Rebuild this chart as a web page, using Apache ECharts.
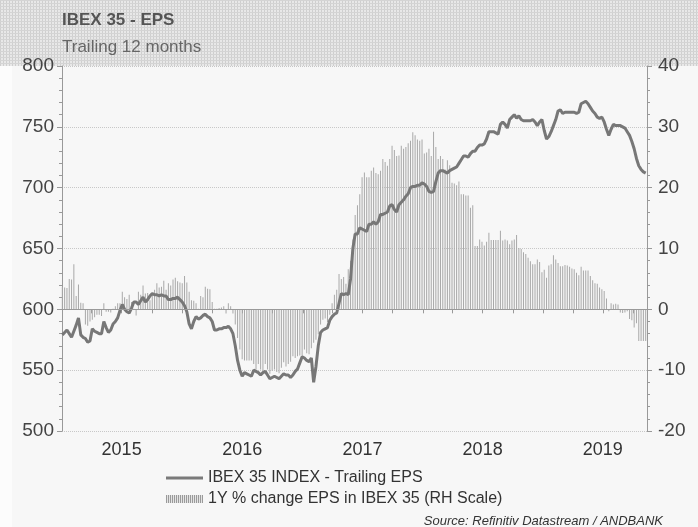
<!DOCTYPE html>
<html lang="en">
<head>
    <meta charset="utf-8">
    <title>IBEX 35 - EPS</title>
    <style>
        html, body, #myChart {
            width: 100%;
            height: 100%;
            margin: 0;
            padding: 0;
            overflow: hidden;
        }
    </style>
</head>
<body>
    <div id="myChart"></div>
    <script src="https://cdn.jsdelivr.net/npm/echarts@6/dist/echarts.min.js"></script>
    <script>
        // weekly readings, first week ending 2 Jan 2015
        var years = [2015, 2016, 2017, 2018, 2019];
        var lineName = 'IBEX 35 INDEX - Trailing EPS';
        var barName = '1Y % change EPS in IBEX 35 (RH Scale)';

        // trailing 12m EPS (left scale)
        var eps = [
            579, 581, 583, 580, 577, 582, 587, 593, 579, 577,
            576, 573, 574, 584, 582, 581, 580, 580, 590, 585,
            581, 583, 588, 590, 593, 599, 604, 600, 598, 597,
            601, 606, 606, 604, 607, 610, 606, 608, 611, 613,
            612, 612, 611, 612, 611, 611, 608, 608, 609, 609,
            610, 608, 606, 603, 598, 588, 584, 590, 594, 592,
            593, 595, 596, 594, 593, 590, 583, 583, 584, 584,
            585, 585, 586, 584, 580, 570, 558, 550, 545, 548,
            547, 546, 545, 550, 549, 548, 546, 548, 549, 546,
            543, 544, 545, 544, 543, 545, 547, 546, 546, 544,
            546, 549, 551, 556, 561, 560, 558, 557, 560, 540,
            553, 570, 581, 583, 584, 585, 591, 594, 596, 597,
            605, 613, 612, 613, 612, 625, 650, 662, 662, 667,
            666, 665, 664, 670, 670, 672, 670, 672, 678, 678,
            679, 680, 685, 686, 682, 680, 686, 688, 690, 693,
            695, 700, 701, 701, 702, 702, 704, 703, 701, 697,
            696, 697, 705, 712, 714, 714, 713, 712, 714, 715,
            716, 717, 720, 723, 726, 726, 725, 728, 730, 730,
            733, 735, 735, 736, 740, 746, 746, 746, 745, 744,
            752, 754, 752, 749, 756, 758, 760, 757, 759, 756,
            755, 755, 755, 755, 756, 754, 751, 754, 756, 747,
            740, 742, 746, 751, 756, 763, 764, 761, 762, 762,
            762, 762, 762, 761, 762, 769, 770, 771, 769, 766,
            763, 761, 758, 757, 758, 754, 748, 743, 748, 752,
            751, 751, 751, 750, 749, 746, 743, 738, 732, 724,
            718, 715, 713, 712
        ];

        // 1Y % change (right scale)
        var growth = [
            3.7, 3.6, 3.5, 5.0, 4.9, 7.4, 2.2, 4.1, 1.1, 1.0,
            -2.5, -2.7, -2.0, -1.7, -1.3, -0.9, -0.9, -1.1, 1.0, -0.4,
            -0.4, -0.5, 0.1, 0.5, 1.0, 1.0, 2.9, 2.0, 1.7, 2.4,
            1.2, 0.1, -1.0, 2.9, 2.4, 3.9, 2.6, 2.7, 1.5, 2.6,
            3.2, 4.3, 3.6, 3.7, 4.7, 3.2, 4.3, 3.9, 4.9, 5.2,
            4.6, 4.4, 4.3, 5.5, 4.4, 2.9, 1.5, 1.4, 1.0, 0.1,
            2.2, 2.0, 3.7, 3.4, 3.3, 1.2, 0.1, 0.1, 0.2, 0.3,
            0.5, -0.7, 1.0, 0.5, -0.7, -2.5, -4.7, -6.6, -8.2, -8.4,
            -8.4, -8.4, -8.4, -9.0, -9.9, -9.0, -9.9, -10.1, -9.0, -9.9,
            -10.6, -10.1, -9.9, -10.3, -10.5, -9.6, -8.7, -9.4, -9.0, -8.6,
            -7.7, -8.0, -7.7, -7.6, -7.7, -6.6, -7.2, -7.4, -6.4, -5.5,
            -5.0, -4.1, -2.5, -1.7, -1.5, -2.1, -0.9, 1.0, 2.4, 3.2,
            5.8, 5.0, 5.3, 4.2, 6.6, 8.0, 11.5, 15.5, 17.1, 18.9,
            21.7, 22.5, 21.7, 21.7, 22.8, 23.3, 22.4, 22.2, 22.8, 24.7,
            24.2, 23.6, 24.7, 26.9, 26.2, 25.2, 25.3, 26.9, 26.4, 26.7,
            27.3, 27.7, 29.1, 28.6, 27.9, 27.7, 27.9, 25.6, 25.8, 26.4,
            25.2, 29.2, 26.7, 24.7, 25.2, 24.7, 23.0, 24.5, 23.7, 20.8,
            20.7, 20.4, 21.0, 18.9, 18.9, 18.7, 18.7, 16.7, 17.1, 10.4,
            10.4, 11.5, 11.1, 10.5, 11.1, 12.6, 11.4, 11.4, 11.4, 11.4,
            12.9, 11.3, 11.5, 11.3, 10.7, 11.3, 11.5, 12.2, 10.1, 9.9,
            9.4, 9.1, 8.5, 7.9, 7.4, 7.4, 8.2, 7.8, 6.1, 6.5,
            5.2, 7.2, 7.4, 8.9, 8.2, 7.6, 7.1, 7.1, 7.3, 7.2,
            7.0, 6.7, 6.6, 6.0, 5.6, 7.0, 6.4, 6.4, 6.4, 5.5,
            4.8, 4.3, 4.2, 3.6, 3.3, 3.0, 1.8, -0.3, 1.0, 0.8,
            0.9, 0.8, -0.5, -0.6, -0.5, -0.3, -1.6, -1.8, -3.0, -2.3,
            -5.2, -5.2, -5.2, -5.2
        ];

        var FONT = '"Liberation Sans", Arial, sans-serif';

        function weekDate(i) {
            return new Date(2015, 0, 2 + 7 * i).getTime();
        }
        var lineData = eps.map(function (v, i) { return [weekDate(i), v]; });
        var barData = growth.map(function (v, i) { return [weekDate(i), v]; });

        // ticks every quarter, year labels in the middle of each year
        var quarterTicks = [];
        var midYears = [];
        years.forEach(function (y) {
            for (var m = 0; m < 12; m += 3) quarterTicks.push(new Date(y, m, 1).getTime());
            midYears.push(new Date(y, 6, 1).getTime());
        });

        // textures for the header band and the bar legend icon
        function makePattern(w, h, draw) {
            var c = document.createElement('canvas');
            c.width = w;
            c.height = h;
            draw(c.getContext('2d'));
            return { image: c, repeat: 'repeat' };
        }
        var headerFill = makePattern(3, 3, function (ctx) {
            ctx.fillStyle = '#e8e8e8';
            ctx.fillRect(0, 0, 3, 3);
            ctx.fillStyle = '#cfcfcf';
            ctx.fillRect(0, 0, 1, 3);
            ctx.fillStyle = '#d4d4d4';
            ctx.fillRect(0, 0, 3, 1);
        });
        var hatchFill = makePattern(2, 2, function (ctx) {
            ctx.fillStyle = '#e4e4e4';
            ctx.fillRect(0, 0, 2, 2);
            ctx.fillStyle = '#9a9a9a';
            ctx.fillRect(0, 0, 1, 2);
        });

        var myChart = echarts.init(document.getElementById('myChart'));
        var option = {
            animation: false,
            backgroundColor: '#f7f7f7',
            textStyle: { fontFamily: FONT },
            graphic: [
                { type: 'rect', z: -10, silent: true, shape: { x: 0, y: 0, width: 698, height: 66 }, style: { fill: headerFill } },
                { type: 'rect', z: -10, silent: true, shape: { x: 0, y: 66, width: 12, height: 461 }, style: { fill: '#fcfcfc' } },
                {
                    type: 'text', right: 35, top: 515, silent: true,
                    style: { text: 'Source: Refinitiv Datastream / ANDBANK', font: 'italic 13px ' + FONT, fill: '#333' }
                }
            ],
            title: {
                text: 'IBEX 35 - EPS',
                subtext: 'Trailing 12 months',
                left: 62,
                top: 12,
                padding: 0,
                itemGap: 10,
                textStyle: { fontSize: 17, fontWeight: 'bold', color: '#555', fontFamily: FONT },
                subtextStyle: { fontSize: 17, color: '#666', fontFamily: FONT }
            },
            legend: [{
                data: [{ name: lineName, icon: 'rect', itemStyle: { color: '#7a7a7a' } }],
                left: 166,
                top: 470,
                padding: 0,
                itemWidth: 37,
                itemHeight: 3,
                textStyle: { fontSize: 16, color: '#333', fontFamily: FONT }
            }, {
                data: [{ name: barName, icon: 'rect', itemStyle: { color: hatchFill } }],
                left: 166,
                top: 491,
                padding: 0,
                itemWidth: 37,
                itemHeight: 8,
                textStyle: { fontSize: 16, color: '#333', fontFamily: FONT }
            }],
            grid: {
                left: 62,
                right: 51,
                top: 66,
                bottom: 96,
                containLabel: false
            },
            xAxis: {
                type: 'value',
                min: new Date(2015, 0, 1).getTime(),
                max: new Date(2019, 10, 12).getTime(),
                axisLine: { lineStyle: { color: '#999' } },
                axisTick: { show: true, length: 4, customValues: quarterTicks, lineStyle: { color: '#999' } },
                axisLabel: {
                    customValues: midYears,
                    margin: 10,
                    fontSize: 18,
                    color: '#333',
                    fontFamily: FONT,
                    formatter: function (v) { return String(new Date(v).getFullYear()); }
                },
                splitLine: { show: false }
            },
            yAxis: [{
                type: 'value',
                min: 500,
                max: 800,
                interval: 50,
                axisLine: { show: true, lineStyle: { color: '#999' } },
                axisTick: { show: true, length: 5, lineStyle: { color: '#999' } },
                minorTick: { show: true, splitNumber: 5, length: 3, lineStyle: { color: '#999' } },
                axisLabel: { margin: 8, fontSize: 19, color: '#444', fontFamily: FONT },
                splitLine: { lineStyle: { color: '#c8c8c8', type: 'dotted' } }
            }, {
                type: 'value',
                min: -20,
                max: 40,
                interval: 10,
                axisLine: { show: true, lineStyle: { color: '#999' } },
                axisTick: { show: true, length: 5, lineStyle: { color: '#999' } },
                minorTick: { show: true, splitNumber: 5, length: 3, lineStyle: { color: '#999' } },
                axisLabel: { margin: 11, fontSize: 19, color: '#444', fontFamily: FONT },
                splitLine: { show: false }
            }],
            series: [{
                name: barName,
                type: 'bar',
                yAxisIndex: 1,
                data: barData,
                barWidth: 1,
                itemStyle: { color: '#a8a8a8' },
                markLine: {
                    silent: true,
                    symbol: 'none',
                    label: { show: false },
                    lineStyle: { color: '#999', type: 'solid', width: 1 },
                    data: [{ yAxis: 0 }]
                },
                z: 2
            }, {
                name: lineName,
                type: 'line',
                data: lineData,
                showSymbol: false,
                symbol: 'none',
                lineStyle: { color: '#777', width: 3 },
                itemStyle: { color: '#777' },
                z: 3
            }]
        };
        myChart.setOption(option);
    </script>
</body>
</html>
